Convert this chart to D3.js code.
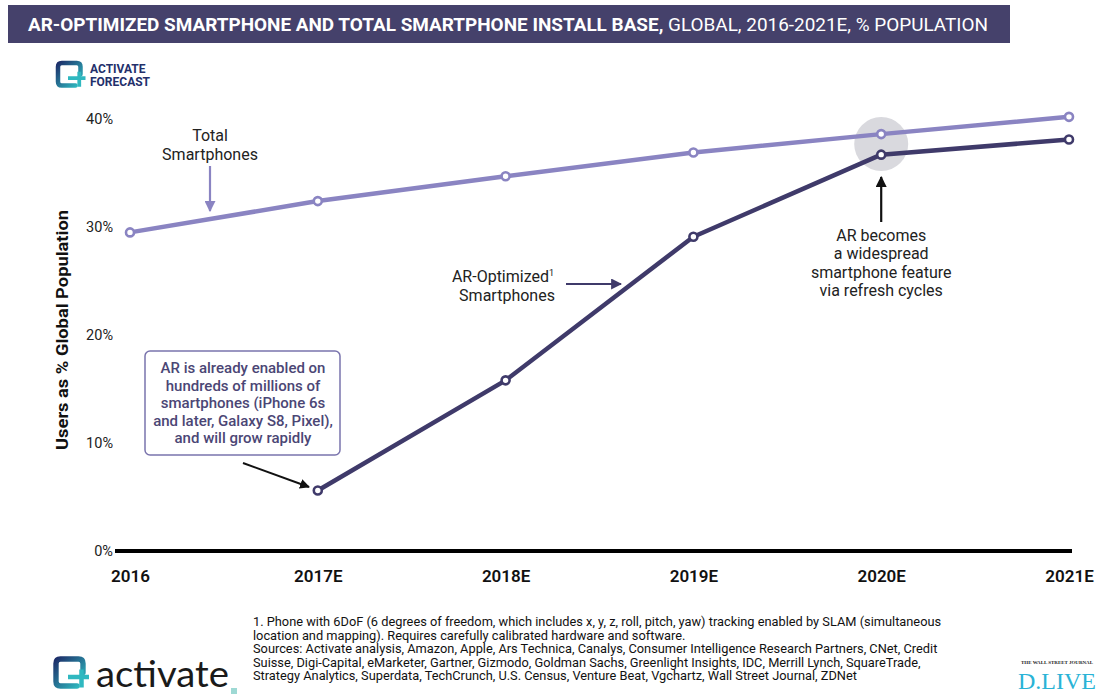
<!DOCTYPE html>
<html>
<head>
<meta charset="utf-8">
<script src="https://cdn.jsdelivr.net/npm/d3@7/dist/d3.min.js"></script>
<style>
  html, body { margin: 0; padding: 0; background: #fff; }
  svg { display: block; font-family: Roboto, "Noto Sans", sans-serif; }
</style>
</head>
<body>
<svg id="chart" width="1099" height="694"></svg>
<script>
// Categories and series (share of global population, %)
const years = ["2016", "2017E", "2018E", "2019E", "2020E", "2021E"];
const totalSmartphones = [29.5, 32.4, 34.7, 36.9, 38.6, 40.2];
const arOptimized = [null, 5.6, 15.8, 29.1, 36.7, 38.1];
const yTicks = [0, 10, 20, 30, 40];

const svg = d3.select("#chart");
const defs = svg.append("defs");

const x = d3.scalePoint().domain(years).range([130, 1069]);
const y = d3.scaleLinear().domain([0, 40]).range([551, 119]);

// Header bar
svg.append("rect").attr("x", 8).attr("y", 5).attr("width", 1002).attr("height", 38).attr("fill", "#45416b");
const title = svg.append("text").attr("x", 28).attr("y", 31).attr("fill", "#fff")
  .attr("font-size", 19).attr("textLength", 960).attr("lengthAdjust", "spacingAndGlyphs");
title.append("tspan").attr("font-weight", 700).text("AR-OPTIMIZED SMARTPHONE AND TOTAL SMARTPHONE INSTALL BASE,");
title.append("tspan").attr("font-weight", 400).text(" GLOBAL, 2016-2021E, % POPULATION");

// Activate icon: rounded square outline with a plus
function activateIcon(g, s, id) {
  const grad = defs.append("linearGradient").attr("id", id)
    .attr("x1", "0").attr("y1", "0").attr("x2", "1").attr("y2", "1");
  grad.append("stop").attr("offset", "0").attr("stop-color", "#1d2f6a");
  grad.append("stop").attr("offset", "1").attr("stop-color", "#30c0c4");
  g.append("path")
    .attr("d", `M${14*s},${18*s} L${3*s},${18*s} Q0,${18*s} 0,${15*s} L0,${3*s} Q0,0 ${3*s},0 L${15*s},0 Q${18*s},0 ${18*s},${3*s} L${18*s},${9*s}`)
    .attr("fill", "none").attr("stroke", `url(#${id})`).attr("stroke-width", 3.6 * s).attr("stroke-linecap", "round");
  g.append("path")
    .attr("d", `M${8*s},${12*s} L${22*s},${12*s} M${17*s},${7*s} L${17*s},${19*s}`)
    .attr("fill", "none").attr("stroke", "#2fb8c0").attr("stroke-width", 3 * s);
}
const badge = svg.append("g").attr("transform", "translate(58,63)");
activateIcon(badge, 1.25, "gradBadge");
badge.append("text").attr("x", 32).attr("y", 10).attr("font-size", 12).attr("font-weight", 700).attr("fill", "#23306b").text("ACTIVATE");
badge.append("text").attr("x", 32).attr("y", 23).attr("font-size", 12).attr("font-weight", 700).attr("fill", "#23306b").text("FORECAST");

// Y axis labels
const yAxis = d3.axisLeft(y).tickValues(yTicks).tickFormat(d => d + "%").tickSize(0).tickPadding(0);
const yg = svg.append("g").attr("transform", "translate(113,0)").call(yAxis);
yg.select(".domain").remove();
yg.selectAll("text").attr("font-size", 14.5).attr("fill", "#222").attr("font-family", "Roboto, sans-serif");

svg.append("text").attr("transform", "translate(68,330) rotate(-90)").attr("text-anchor", "middle")
  .attr("font-size", 17).attr("font-weight", 700).attr("fill", "#111")
  .attr("textLength", 240).attr("lengthAdjust", "spacingAndGlyphs").text("Users as % Global Population");

// X axis: baseline and labels
svg.append("line").attr("x1", 115).attr("x2", 1072).attr("y1", y(0)).attr("y2", y(0))
  .attr("stroke", "#000").attr("stroke-width", 4);
const xAxis = d3.axisBottom(x).tickSize(0).tickPadding(0);
const xg = svg.append("g").attr("transform", "translate(0,569)").call(xAxis);
xg.select(".domain").remove();
xg.selectAll("text").attr("font-size", 17).attr("font-weight", 600).attr("fill", "#111")
  .attr("font-family", "Roboto, sans-serif").attr("dy", "0.75em");

// Highlight behind 2020E
svg.append("circle").attr("cx", x("2020E")).attr("cy", 144).attr("r", 27).attr("fill", "#d9d9de");

// Series lines
const line = d3.line().defined(d => d.v != null).x(d => x(d.k)).y(d => y(d.v));
const series = [
  { values: totalSmartphones, color: "#8a84c2" },
  { values: arOptimized, color: "#3f3a6a" }
];
series.forEach(s => {
  const pts = years.map((k, i) => ({ k, v: s.values[i] }));
  svg.append("path").datum(pts).attr("d", line).attr("fill", "none")
    .attr("stroke", s.color).attr("stroke-width", 4.5).attr("stroke-linejoin", "round");
  svg.append("g").selectAll("circle").data(pts.filter(d => d.v != null)).join("circle")
    .attr("cx", d => x(d.k)).attr("cy", d => y(d.v)).attr("r", 4)
    .attr("fill", "#fff").attr("stroke", s.color).attr("stroke-width", 2.6);
});

// Arrow markers
function marker(id, color) {
  defs.append("marker").attr("id", id).attr("viewBox", "0 0 10 10").attr("refX", 9).attr("refY", 5)
    .attr("markerWidth", 5).attr("markerHeight", 5).attr("orient", "auto-start-reverse")
    .append("path").attr("d", "M0,0 L10,5 L0,10 Z").attr("fill", color);
}
marker("arrLight", "#8a84c2");
marker("arrDark", "#3f3a6a");
marker("arrBlack", "#111");

// Total Smartphones annotation
const ts = svg.append("text").attr("text-anchor", "middle").attr("font-size", 16).attr("fill", "#222");
ts.append("tspan").attr("x", 210).attr("y", 141).text("Total");
ts.append("tspan").attr("x", 210).attr("y", 160).text("Smartphones");
svg.append("line").attr("x1", 210).attr("y1", 166).attr("x2", 210).attr("y2", 211)
  .attr("stroke", "#8a84c2").attr("stroke-width", 2.2).attr("marker-end", "url(#arrLight)");

// AR-Optimized annotation
const ar = svg.append("text").attr("text-anchor", "middle").attr("font-size", 16).attr("fill", "#222");
const ar1 = ar.append("tspan").attr("x", 503).attr("y", 282).text("AR-Optimized");
ar1.append("tspan").attr("font-size", 9).attr("dy", -6).text("1");
ar.append("tspan").attr("x", 507).attr("y", 301).attr("dy", 0).text("Smartphones");
svg.append("line").attr("x1", 566).attr("y1", 284).attr("x2", 621).attr("y2", 284)
  .attr("stroke", "#3f3a6a").attr("stroke-width", 2.2).attr("marker-end", "url(#arrDark)");

// Callout box for 2017E
svg.append("rect").attr("x", 145).attr("y", 351).attr("width", 195).attr("height", 104).attr("rx", 5)
  .attr("fill", "#fff").attr("stroke", "#7a74ad").attr("stroke-width", 1.5);
const boxLines = ["AR is already enabled on", "hundreds of millions of", "smartphones (iPhone 6s", "and later, Galaxy S8, Pixel),", "and will grow rapidly"];
svg.append("text").attr("text-anchor", "middle").attr("font-size", 15).attr("font-weight", 500).attr("fill", "#4b4675")
  .selectAll("tspan").data(boxLines).join("tspan")
  .attr("x", 243).attr("y", (d, i) => 373 + i * 17.6).text(d => d);
svg.append("line").attr("x1", 243).attr("y1", 463).attr("x2", 309).attr("y2", 487)
  .attr("stroke", "#111").attr("stroke-width", 2).attr("marker-end", "url(#arrBlack)");

// 2020E annotation
svg.append("line").attr("x1", x("2020E")).attr("y1", 222).attr("x2", x("2020E")).attr("y2", 177)
  .attr("stroke", "#111").attr("stroke-width", 2.2).attr("marker-end", "url(#arrBlack)");
const wide = ["AR becomes", "a widespread", "smartphone feature", "via refresh cycles"];
svg.append("text").attr("text-anchor", "middle").attr("font-size", 16).attr("fill", "#222")
  .selectAll("tspan").data(wide).join("tspan")
  .attr("x", x("2020E")).attr("y", (d, i) => 241 + i * 18.4).text(d => d);

// Footnote and sources
const notes = [
  "1. Phone with 6DoF (6 degrees of freedom, which includes x, y, z, roll, pitch, yaw) tracking enabled by SLAM (simultaneous",
  "location and mapping). Requires carefully calibrated hardware and software.",
  "Sources: Activate analysis, Amazon, Apple, Ars Technica, Canalys, Consumer Intelligence Research Partners, CNet, Credit",
  "Suisse, Digi-Capital, eMarketer, Gartner, Gizmodo, Goldman Sachs, Greenlight Insights, IDC, Merrill Lynch, SquareTrade,",
  "Strategy Analytics, Superdata, TechCrunch, U.S. Census, Venture Beat, Vgchartz, Wall Street Journal, ZDNet"
];
svg.append("text").attr("font-size", 12.8).attr("fill", "#111")
  .selectAll("tspan").data(notes).join("tspan")
  .attr("x", 253).attr("y", (d, i) => 626 + i * 13.6).text(d => d);

// Activate logo
const logo = svg.append("g").attr("transform", "translate(56,659)");
activateIcon(logo, 1.5, "gradLogo");
logo.append("text").attr("x", 40).attr("y", 28).attr("font-size", 36).attr("fill", "#1a1a1a")
  .attr("font-family", "Lato, Roboto, sans-serif")
  .attr("textLength", 133).attr("lengthAdjust", "spacingAndGlyphs").text("activate");
svg.append("rect").attr("x", 231).attr("y", 688).attr("width", 6).attr("height", 6).attr("fill", "#9ed9d4");

// WSJ D.LIVE mark
svg.append("text").attr("x", 1057).attr("y", 664).attr("text-anchor", "middle").attr("font-size", 4.6)
  .attr("font-family", "'Liberation Serif', serif").attr("font-weight", 700).attr("fill", "#222")
  .attr("textLength", 72).attr("lengthAdjust", "spacingAndGlyphs").text("THE WALL STREET JOURNAL");
svg.append("text").attr("x", 1057).attr("y", 689).attr("text-anchor", "middle").attr("font-size", 24)
  .attr("font-family", "'Liberation Serif', serif").attr("fill", "#2ab3d6").text("D.LIVE");
</script>
</body>
</html>
